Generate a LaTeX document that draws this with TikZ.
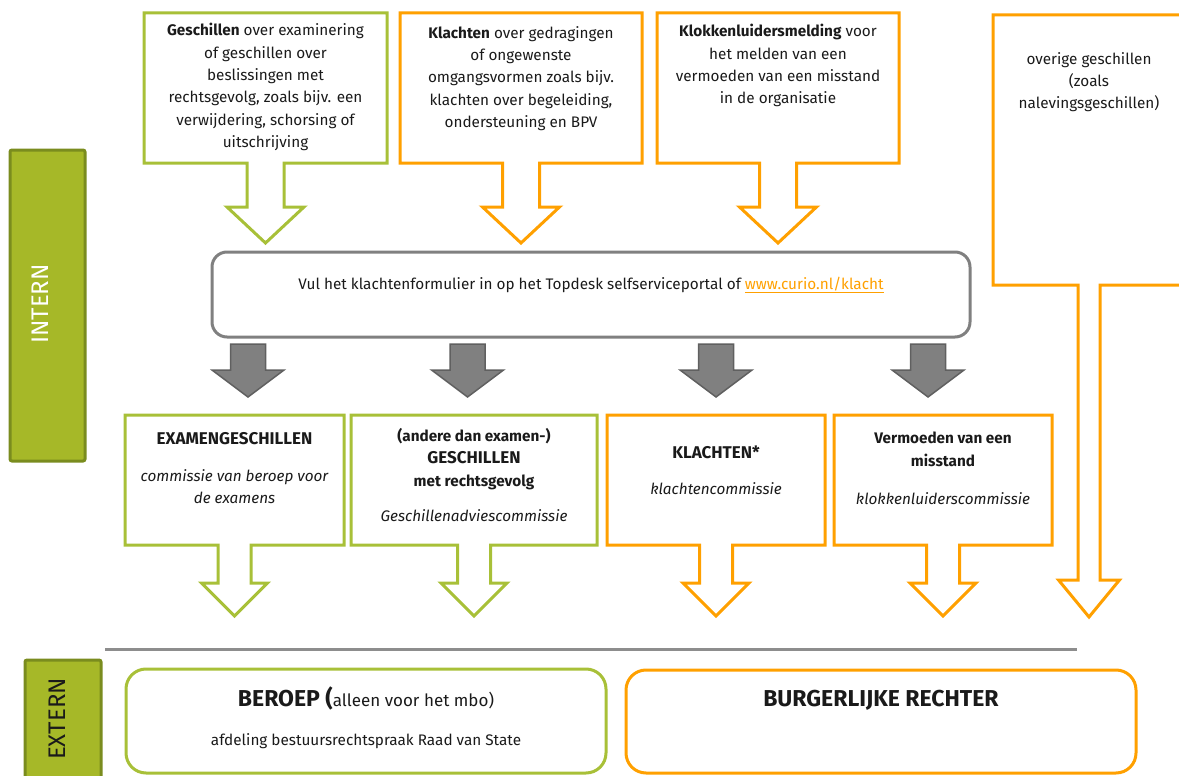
\documentclass[tikz,border=0pt]{standalone}
\usepackage{fontspec}
\setmainfont{Fira Sans}
\usepackage{xcolor}
\usepackage{tikz}
\usetikzlibrary{positioning, calc}
\definecolor{curiogreen}{RGB}{168, 192, 56}
\definecolor{curioorange}{RGB}{255, 160, 0}
\definecolor{barolive}{RGB}{166, 184, 40}
\definecolor{bardark}{RGB}{122, 140, 30}
\definecolor{portalgray}{RGB}{128, 128, 128}
\definecolor{arrowdark}{RGB}{96, 96, 96}
\definecolor{inktext}{RGB}{26, 26, 26}

\begin{document}
\begin{tikzpicture}[x=1pt, y=-1pt,
    every node/.style={inner sep=0pt, text=inktext,
        font=\fontsize{15.3}{22.4}\selectfont},
    boxtext/.style={align=center, anchor=north},
    capstext/.style={align=center, anchor=north,
        font=\fontsize{17}{22.4}\selectfont\bfseries},
    outline/.style={line width=3pt, line join=miter},
    bartext/.style={rotate=90, font=\fontsize{24}{26}\selectfont}]
    \useasboundingbox (0,0) rectangle (1179,776);

    % Side bars
    \draw[bardark, fill=barolive, line width=3pt, rounded corners=2pt]
        (10,150) rectangle (85,461);
    \node[bartext, text=white] (intern) at (40,304) {INTERN};
    \draw[bardark, fill=barolive, line width=3pt, rounded corners=2pt]
        (25,660) rectangle (101,790);
    \node[bartext] (extern) at (57,719) {EXTERN};

    % --- TOP ROW: boxes with open arrows ---
    \foreach \l/\r/\col in {144/387/curiogreen, 400/642/curioorange,
                            657/899/curioorange} {
        \pgfmathsetmacro{\mx}{(\l+\r)/2}
        \draw[outline, \col] (\mx-18.5,163) -- (\l,163) -- (\l,13) -- (\r,13)
            -- (\r,163) -- (\mx+18.5,163) -- (\mx+18.5,207) -- (\mx+38.5,207)
            -- (\mx,243) -- (\mx-38.5,207) -- (\mx-18.5,207) -- cycle;
    }
    \node[boxtext] (geschil) at (265.5,23) {\textbf{Geschillen} over examinering\\
        of geschillen over\\ beslissingen met\\ rechtsgevolg, zoals bijv. een\\
        verwijdering, schorsing of\\ uitschrijving};
    \node[boxtext] (klacht) at (521,26) {\textbf{Klachten} over gedragingen\\
        of ongewenste\\ omgangsvormen zoals bijv.\\ klachten over begeleiding,\\
        ondersteuning en BPV};
    \node[boxtext] (melding) at (778,24) {\textbf{Klokkenluidersmelding} voor\\
        het melden van een\\ vermoeden van een misstand\\ in de organisatie};

    % Tall box on the right (runs off the page)
    \draw[outline, curioorange] (1078,285) -- (993,285) -- (993,15) -- (1185,15)
        -- (1185,285) -- (1100,285) -- (1100,580) -- (1119.5,580) -- (1089,617)
        -- (1058.5,580) -- (1078,580) -- cycle;
    \node[boxtext] (overig) at (1089,52) {overige geschillen\\ (zoals\\
        nalevingsgeschillen)};

    % Portal
    \draw[portalgray, line width=3pt, rounded corners=15pt]
        (212,252) rectangle (970,337);
    \node[anchor=north] (portal) at (591,277) {Vul het klachtenformulier in op
        het Topdesk selfserviceportal of
        \textcolor{curioorange}{\underline{www.curio.nl/klacht}}};

    % Grey block arrows
    \foreach \x in {248, 467.5, 716, 928} {
        \draw[fill=portalgray, draw=arrowdark, line width=1.5pt]
            (\x-17.5,344) -- (\x+17.5,344) -- (\x+17.5,370) -- (\x+36,370)
            -- (\x,397) -- (\x-36,370) -- (\x-17.5,370) -- cycle;
    }

    % --- MIDDLE ROW: committees ---
    \foreach \l/\r/\col in {125/344/curiogreen, 351/597/curiogreen,
                            607/825/curioorange, 834/1052/curioorange} {
        \pgfmathsetmacro{\mx}{(\l+\r)/2}
        \draw[outline, \col] (\mx-16.5,545) -- (\l,545) -- (\l,415) -- (\r,415)
            -- (\r,545) -- (\mx+16.5,545) -- (\mx+16.5,583) -- (\mx+33,583)
            -- (\mx,616) -- (\mx-33,583) -- (\mx-16.5,583) -- cycle;
    }
    \node[capstext] (examen) at (234.5,432) {EXAMENGESCHILLEN};
    \node[boxtext] (examensub) at (234.5,469) {\itshape commissie van beroep voor\\
        \itshape de examens};
    \node[boxtext] (andere) at (474,428) {\textbf{(andere dan examen-)}\\
        {\fontsize{17}{22.4}\selectfont\textbf{GESCHILLEN}}\\
        \textbf{met rechtsgevolg}};
    \node[boxtext] (anderesub) at (474,509) {\itshape Geschillenadviescommissie};
    \node[capstext] (klachten) at (716,446) {KLACHTEN*};
    \node[boxtext] (klachtensub) at (716,482) {\itshape klachtencommissie};
    \node[boxtext] (misstand) at (943,432) {\textbf{Vermoeden van een}\\
        \textbf{misstand}};
    \node[boxtext] (misstandsub) at (943,492) {\itshape klokkenluiderscommissie};

    % Separator intern / extern
    \draw[portalgray!90, line width=3pt] (105,649) -- (1077,649);

    % --- BOTTOM ROW: external ---
    \draw[outline, curiogreen, rounded corners=20pt] (126,669) rectangle (606,773);
    \node[anchor=base] (beroep) at (366,706) {\fontsize{23}{25}\selectfont
        \textbf{BEROEP (}\fontsize{17}{19}\selectfont alleen voor het mbo)};
    \node[anchor=base] (raad) at (366,745) {afdeling bestuursrechtspraak Raad
        van State};
    \draw[outline, curioorange, rounded corners=20pt] (626,670) rectangle (1136,773);
    \node[anchor=base] (rechter) at (881,706) {\fontsize{23}{25}\selectfont
        \textbf{BURGERLIJKE RECHTER}};
\end{tikzpicture}
\end{document}
